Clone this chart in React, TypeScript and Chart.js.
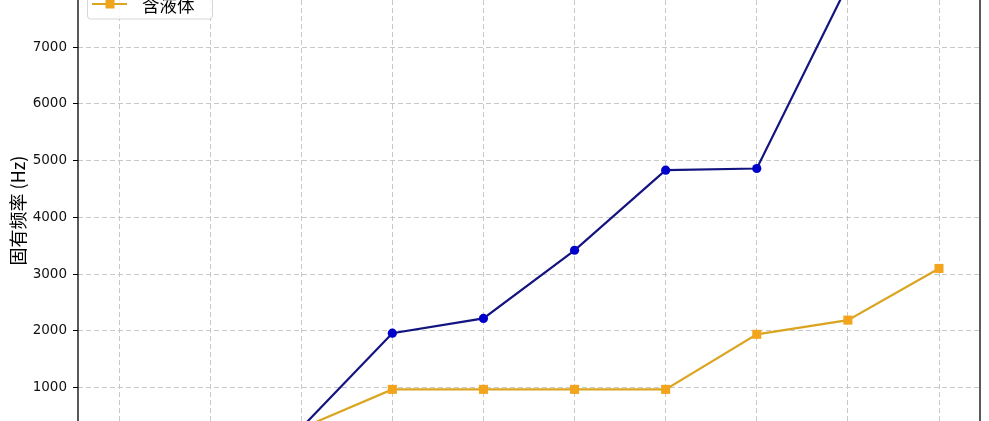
import React, { useEffect, useRef } from 'react';
import { Chart, registerables } from 'chart.js';

Chart.register(...registerables);

// mode order (x) and natural frequencies (Hz)
const modes = [1, 2, 3, 4, 5, 6, 7, 8, 9, 10];
const dryFreq = [270, 280, 290, 1960, 2220, 3420, 4830, 4860, 8100, 9600];
const wetFreq = [265, 275, 285, 970, 970, 970, 970, 1940, 2190, 3100];
const yTicks = [1000, 2000, 3000, 4000, 5000, 6000, 7000];
const seriesNames = ['不含液体', '含液体'];

const lineBlue = '#141480';
const markBlue = '#0000cd';
const lineGold = '#daa520';
const markGold = '#f2a41c';

const frameAndLegend = {
  id: 'frameAndLegend',
  afterDraw(chart: Chart) {
    const { ctx, chartArea } = chart;
    ctx.save();
    // axes box (top and bottom edges are outside the picture)
    ctx.setLineDash([]);
    ctx.strokeStyle = '#000';
    ctx.lineWidth = 1.3;
    ctx.strokeRect(chartArea.left, chartArea.top - 10, chartArea.right - chartArea.left, chartArea.bottom - chartArea.top + 20);

    // legend box (upper part falls outside the picture)
    ctx.beginPath();
    ctx.roundRect(87.5, -48, 125, 67, 3);
    ctx.fillStyle = 'rgba(255,255,255,0.85)';
    ctx.fill();
    ctx.strokeStyle = '#d6d6d6';
    ctx.lineWidth = 1;
    ctx.stroke();

    const rows = [
      { y: -22, line: lineBlue, mark: markBlue, round: true },
      { y: 4, line: lineGold, mark: markGold, round: false },
    ];
    rows.forEach((r, i) => {
      ctx.strokeStyle = r.line;
      ctx.lineWidth = 2.2;
      ctx.beginPath();
      ctx.moveTo(92, r.y);
      ctx.lineTo(127, r.y);
      ctx.stroke();
      ctx.fillStyle = r.mark;
      if (r.round) {
        ctx.beginPath();
        ctx.arc(110, r.y, 4.5, 0, Math.PI * 2);
        ctx.fill();
      } else {
        ctx.fillRect(105.5, r.y - 4.5, 9, 9);
      }
      ctx.fillStyle = '#000';
      ctx.font = '17.5px "Noto Sans CJK SC"';
      ctx.textBaseline = 'middle';
      ctx.fillText(seriesNames[i], 142, r.y + 1);
    });
    ctx.restore();
  },
};

const App: React.FC = () => {
  const chartRef = useRef<HTMLCanvasElement | null>(null);
  const chartInstanceRef = useRef<Chart | null>(null);

  useEffect(() => {
    document.body.style.margin = '0';
    if (!chartRef.current) return;
    const ctx = chartRef.current.getContext('2d');
    if (!ctx) return;

    chartInstanceRef.current = new Chart(ctx, {
      type: 'line',
      data: {
        datasets: [
          {
            label: seriesNames[0],
            data: modes.map((m, i) => ({ x: m, y: dryFreq[i] })),
            borderColor: lineBlue,
            borderWidth: 2.2,
            pointStyle: 'circle',
            pointRadius: 4.6,
            pointBorderWidth: 0,
            pointBackgroundColor: markBlue,
            fill: false,
          },
          {
            label: seriesNames[1],
            data: modes.map((m, i) => ({ x: m, y: wetFreq[i] })),
            borderColor: lineGold,
            borderWidth: 2.2,
            pointStyle: 'rect',
            pointRadius: 6.4,
            pointBorderWidth: 0,
            pointBackgroundColor: markGold,
            fill: false,
          },
        ],
      },
      options: {
        animation: false,
        responsive: true,
        maintainAspectRatio: false,
        layout: { autoPadding: false, padding: { left: 0, right: 9, top: 0, bottom: 0 } },
        plugins: {
          legend: { display: false },
          tooltip: { enabled: false },
        },
        scales: {
          x: {
            type: 'linear',
            min: 0.55,
            max: 10.45,
            afterBuildTicks: (scale: any) => {
              scale.ticks = modes.map((v) => ({ value: v }));
            },
            afterFit: (scale: any) => {
              scale.height = 0;
              scale.paddingLeft = 0;
              scale.paddingRight = 0;
            },
            ticks: { display: false },
            border: { display: false, dash: [5, 3] },
            grid: { color: '#c8c8c8', lineWidth: 1, drawTicks: false },
          },
          y: {
            min: 413,
            max: 7828,
            afterBuildTicks: (scale: any) => {
              scale.ticks = yTicks.map((v) => ({ value: v }));
            },
            afterFit: (scale: any) => {
              scale.width = 78;
              scale.paddingTop = 0;
              scale.paddingBottom = 0;
            },
            ticks: {
              color: '#111',
              padding: 6,
              font: { size: 13.5, family: '"DejaVu Sans"' },
              callback: (v: any) => String(v),
            },
            border: { display: false, dash: [5, 3] },
            grid: {
              color: '#c8c8c8',
              lineWidth: 1,
              drawTicks: true,
              tickLength: 5,
              tickColor: '#000',
              tickBorderDash: [],
            },
            title: {
              display: true,
              text: '固有频率 (Hz)',
              color: '#000',
              padding: { top: 7, bottom: 0 },
              font: { size: 18, family: '"Noto Sans CJK SC"' },
            },
          },
        },
      },
      plugins: [frameAndLegend],
    });

    return () => {
      if (chartInstanceRef.current) {
        chartInstanceRef.current.destroy();
      }
    };
  }, []);

  return (
    <div style={{ position: 'relative', width: '989px', height: '421px', background: '#fff' }}>
      <canvas ref={chartRef} />
    </div>
  );
};

export default App;
